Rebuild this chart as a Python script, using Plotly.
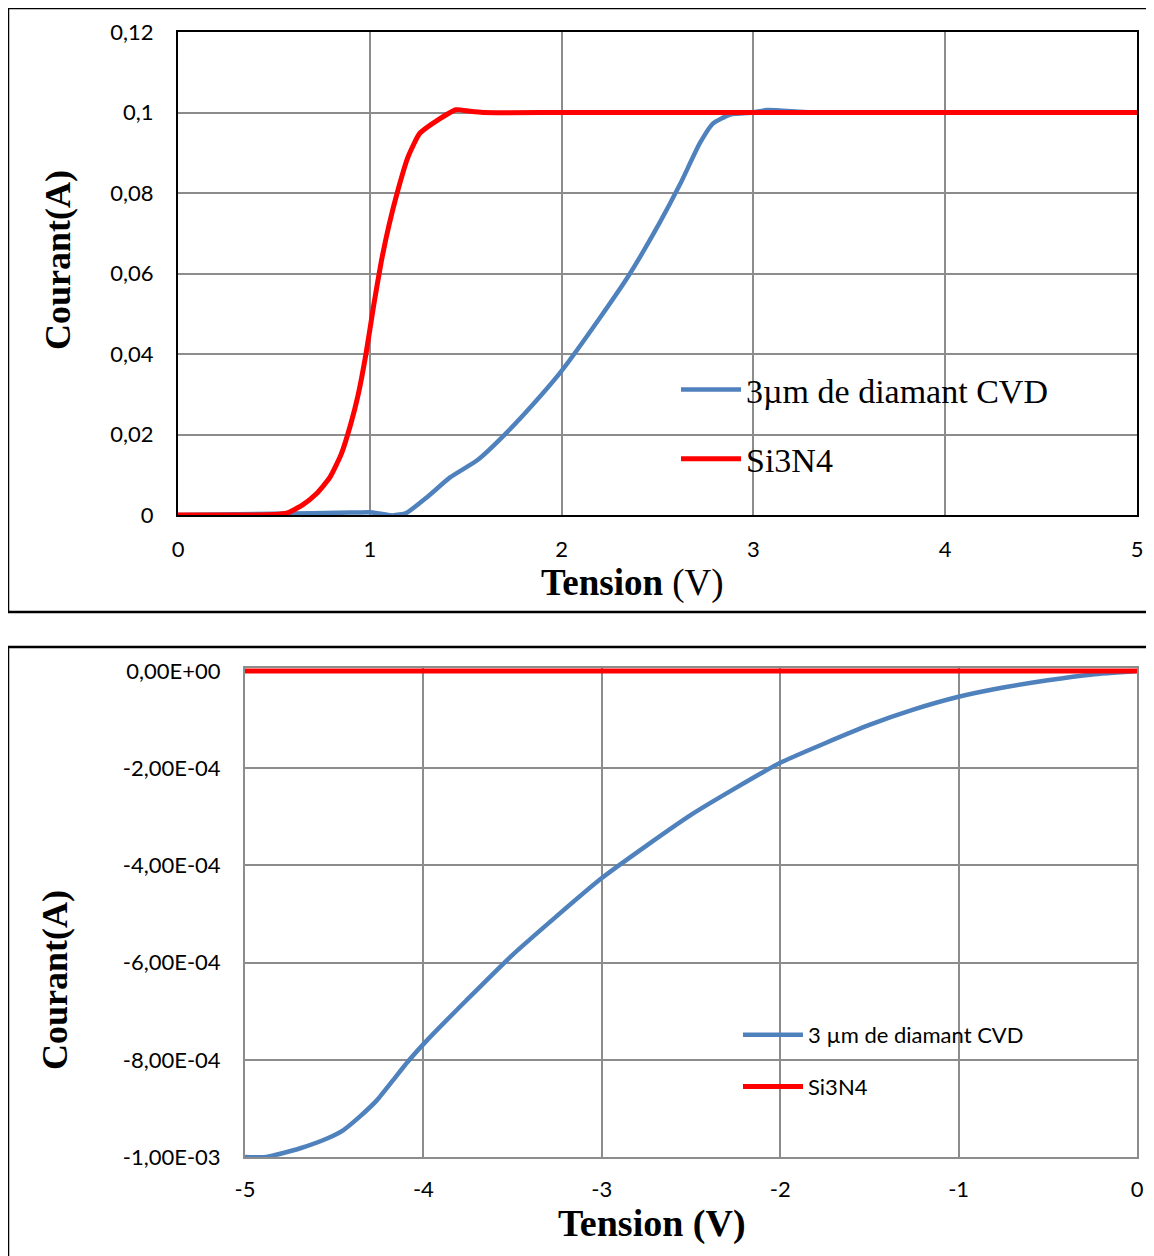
import plotly.graph_objects as go

W, H = 1154, 1256
OFF = 8  # page body margin shifts the figure by this much

# --- top chart (forward bias) ---
top_v_cvd = [0, 0.5, 0.9, 1.0, 1.06, 1.12, 1.19, 1.30, 1.42, 1.56, 1.71, 1.87, 2.0, 2.2, 2.35,
             2.51, 2.62, 2.72, 2.79, 2.88, 3.0, 3.07, 3.3, 4.0, 5.0]
top_i_cvd = [0, 0.0003, 0.0006, 0.0007, 0.0003, -0.0001, 0.0005, 0.0045, 0.0094, 0.0136, 0.0203,
             0.0285, 0.0358, 0.049, 0.0595, 0.0725, 0.0824, 0.0923, 0.0973, 0.0995, 0.1, 0.1006,
             0.1, 0.1, 0.1]
top_v_si = [0, 0.3, 0.5, 0.57, 0.65, 0.72, 0.79, 0.85, 0.90, 0.94, 0.98, 1.02, 1.06, 1.10, 1.146,
            1.198, 1.26, 1.35, 1.45, 1.52, 1.59, 2.0, 3.0, 4.0, 5.0]
top_i_si = [0, 0, 0.0001, 0.0005, 0.0025, 0.0052, 0.0092, 0.0150, 0.0225, 0.030, 0.040, 0.052,
            0.063, 0.072, 0.0806, 0.0888, 0.0948, 0.098, 0.1007, 0.1003, 0.1, 0.1, 0.1, 0.1, 0.1]
top_yticks = [0, 0.02, 0.04, 0.06, 0.08, 0.1, 0.12]
top_ytext = ["0", "0,02", "0,04", "0,06", "0,08", "0,1", "0,12"]
top_xticks = [0, 1, 2, 3, 4, 5]
top_xtext = ["0", "1", "2", "3", "4", "5"]

# --- bottom chart (reverse bias) ---
bot_v_cvd = [-5.0, -4.88, -4.69, -4.54, -4.45, -4.36, -4.26, -4.17, -4.09, -3.98, -3.76, -3.5,
             -3.0, -2.5, -2.0, -1.5, -1.25, -1.0, -0.75, -0.5, -0.25, 0.0]
bot_i_cvd = [-1.0e-3, -1.0e-3, -0.982e-3, -0.962e-3, -0.945e-3, -0.918e-3, -0.883e-3, -0.842e-3,
             -0.805e-3, -0.76e-3, -0.678e-3, -0.584e-3, -0.426e-3, -0.296e-3, -0.189e-3,
             -0.111e-3, -0.079e-3, -0.053e-3, -0.034e-3, -0.019e-3, -0.007e-3, 0.0]
bot_v_si = [-5, -4, -3, -2, -1, 0]
bot_i_si = [0, 0, 0, 0, 0, 0]
bot_yticks = [-1e-3, -8e-4, -6e-4, -4e-4, -2e-4, 0]
bot_ytext = ["-1,00E-03", "-8,00E-04", "-6,00E-04", "-4,00E-04", "-2,00E-04", "0,00E+00"]
bot_xticks = [-5, -4, -3, -2, -1, 0]
bot_xtext = ["-5", "-4", "-3", "-2", "-1", "0"]

BLUE = "#4f81bd"
RED = "#ff0000"
GRID = "#8c8c8c"
SERIF = "Liberation Serif"
SANS = "Lato"


def px(x):
    return (x - OFF) / W


def py(y):
    return 1 - (y - OFF) / H


fig = go.Figure()

fig.add_trace(go.Scatter(x=top_v_cvd, y=top_i_cvd, mode="lines", name="3µm de diamant CVD",
                         line=dict(color=BLUE, width=4.5, shape="spline", smoothing=0.5),
                         xaxis="x", yaxis="y", legend="legend", legendgroup="a"))
fig.add_trace(go.Scatter(x=top_v_si, y=top_i_si, mode="lines", name="Si3N4",
                         line=dict(color=RED, width=5, shape="spline", smoothing=0.5),
                         xaxis="x", yaxis="y", legend="legend", legendgroup="b"))
fig.add_trace(go.Scatter(x=bot_v_cvd, y=bot_i_cvd, mode="lines", name="3 µm de diamant CVD",
                         line=dict(color=BLUE, width=4.5, shape="spline", smoothing=0.5),
                         xaxis="x2", yaxis="y2", legend="legend2", legendgroup="c"))
fig.add_trace(go.Scatter(x=bot_v_si, y=bot_i_si, mode="lines", name="Si3N4",
                         line=dict(color=RED, width=5),
                         xaxis="x2", yaxis="y2", legend="legend2", legendgroup="d"))

tick_font = dict(family=SANS, size=22, color="#000000")

fig.update_layout(
    width=W, height=H,
    margin=dict(l=0, r=0, t=0, b=0, autoexpand=False),
    paper_bgcolor="white", plot_bgcolor="white",
    xaxis=dict(domain=[px(178), px(1137)], anchor="y", range=[0, 5], tickvals=top_xticks,
               ticktext=top_xtext, automargin=False,
               showgrid=True, gridcolor=GRID, gridwidth=1.5, showline=True, linecolor="black",
               linewidth=2, mirror=True, zeroline=False, tickfont=tick_font,
               ticks="", ticklabelstandoff=14),
    yaxis=dict(domain=[py(515), py(32)], anchor="x", range=[0, 0.12], tickvals=top_yticks,
               ticktext=top_ytext, automargin=False,
               showgrid=True, gridcolor=GRID, gridwidth=1.5, showline=True,
               linecolor="black", linewidth=2, mirror=True, zeroline=False, tickfont=tick_font,
               ticks="", ticklabelstandoff=18),
    xaxis2=dict(domain=[px(245), px(1137)], anchor="y2", range=[-5, 0], tickvals=bot_xticks,
                ticktext=bot_xtext, automargin=False,
                showgrid=True, gridcolor=GRID, gridwidth=1.5, showline=True, linecolor=GRID,
                linewidth=2, mirror=True, zeroline=False, tickfont=tick_font,
                ticks="", ticklabelstandoff=12),
    yaxis2=dict(domain=[py(1157), py(668)], anchor="x2", range=[-1e-3, 0.0000062],
                tickvals=bot_yticks, ticktext=bot_ytext, automargin=False,
                showgrid=True, gridcolor=GRID, gridwidth=1.5, showline=True,
                linecolor=GRID, linewidth=2, mirror=True, zeroline=False, tickfont=tick_font,
                ticks="", ticklabelstandoff=18),
    legend=dict(x=px(676), y=py(361), xanchor="left", yanchor="top", bgcolor="rgba(0,0,0,0)",
                font=dict(family=SERIF, size=34, color="black"), traceorder="grouped",
                tracegroupgap=22, itemwidth=60),
    legend2=dict(x=px(738), y=py(1014), xanchor="left", yanchor="top", bgcolor="rgba(0,0,0,0)",
                 font=dict(family=SANS, size=22, color="black"), traceorder="grouped",
                 tracegroupgap=20, itemwidth=60),
    showlegend=True,
)

# outer frames around each chart
fig.add_shape(type="rect", xref="paper", yref="paper", x0=px(8), x1=px(1170), y0=py(612), y1=py(8),
              line=dict(color="black", width=2.5))
fig.add_shape(type="rect", xref="paper", yref="paper", x0=px(8), x1=px(1170), y0=py(1275), y1=py(647),
              line=dict(color="black", width=2.5))

# axis titles
fig.add_annotation(text="<b>Courant(A)</b>", xref="paper", yref="paper", x=px(58), y=py(260),
                   xanchor="center", yanchor="middle", textangle=-90, showarrow=False,
                   font=dict(family=SERIF, size=36, color="black"))
fig.add_annotation(text="<b>Tension</b> (V)", xref="paper", yref="paper", x=px(632), y=py(583),
                   xanchor="center", yanchor="middle", showarrow=False,
                   font=dict(family=SERIF, size=37, color="black"))
fig.add_annotation(text="<b>Courant(A)</b>", xref="paper", yref="paper", x=px(55), y=py(980),
                   xanchor="center", yanchor="middle", textangle=-90, showarrow=False,
                   font=dict(family=SERIF, size=36, color="black"))
fig.add_annotation(text="<b>Tension (V)</b>", xref="paper", yref="paper", x=px(652), y=py(1223),
                   xanchor="center", yanchor="middle", showarrow=False,
                   font=dict(family=SERIF, size=38, color="black"))

fig.write_html("out.html")
